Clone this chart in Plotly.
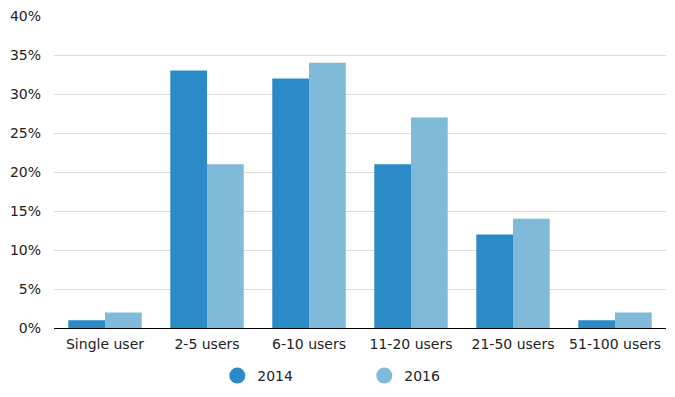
import plotly.graph_objects as go

categories = ["Single user", "2-5 users", "6-10 users", "11-20 users", "21-50 users", "51-100 users"]
values_2014 = [1, 33, 32, 21, 12, 1]
values_2016 = [2, 21, 34, 27, 14, 2]
series_names = ["2014", "2016"]
colors = ["#2a8bc7", "#7fbad9"]

fig = go.Figure()
for name, vals, col in zip(series_names, [values_2014, values_2016], colors):
    fig.add_trace(go.Bar(x=categories, y=vals, name=name, marker=dict(color=col, line=dict(width=0)),
                         showlegend=False, hovertemplate="%{x}: %{y}%<extra>" + name + "</extra>"))
for name, col in zip(series_names, colors):
    fig.add_trace(go.Scatter(x=[None], y=[None], mode="markers", name=name,
                             marker=dict(size=17, color=col, symbol="circle")))

fig.update_layout(
    width=675, height=397,
    margin=dict(l=54, r=9, t=16, b=69, autoexpand=False),
    paper_bgcolor="white", plot_bgcolor="white",
    font=dict(family="DejaVu Sans, Verdana, sans-serif", size=14, color="#222"),
    barmode="group", bargap=0.28, bargroupgap=0,
    legend=dict(orientation="h", x=0.507, xanchor="center", xref="paper",
                y=21 / 397, yanchor="middle", yref="container",
                entrywidth=102, entrywidthmode="pixels", font=dict(size=14)),
    xaxis=dict(showline=True, linecolor="black", linewidth=1, ticks="", showgrid=False,
               automargin=False, ticklabelstandoff=3),
    yaxis=dict(range=[0, 40], dtick=5, ticksuffix="%", showgrid=True, gridcolor="#dcdcdc",
               gridwidth=1, zeroline=False, ticks="", showline=False,
               automargin=False, ticklabelstandoff=12),
)
fig.write_html(
    "out.html",
    config={"displayModeBar": False},
    post_script="document.body.style.margin='0';document.body.style.overflow='hidden';",
)
